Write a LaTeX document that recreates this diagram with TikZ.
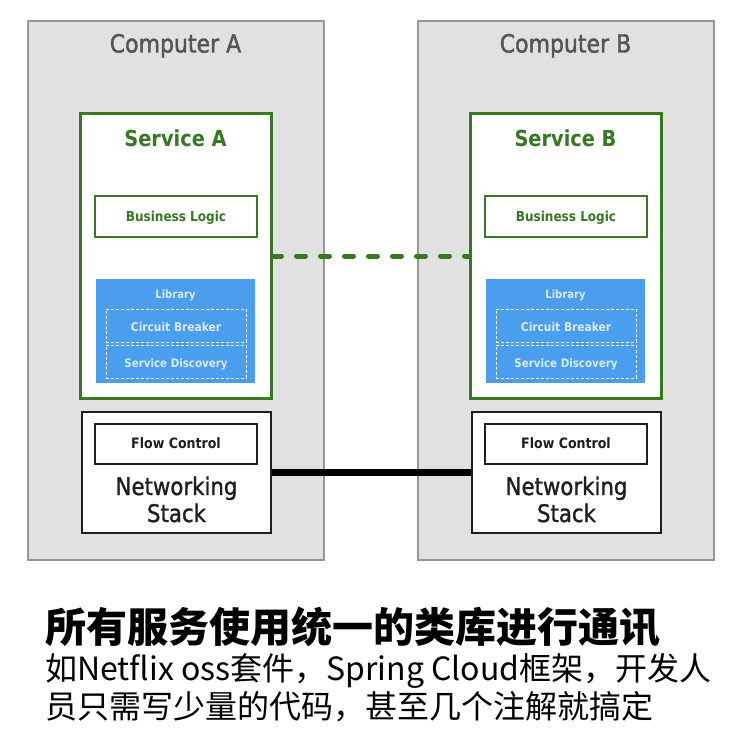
\documentclass[tikz,border=0pt]{standalone}
\usepackage{fontspec}
\newfontfamily\df[FakeStretch=0.88]{DejaVu Sans}
\newfontfamily\dfm[FakeStretch=0.88,FakeBold=1.6]{DejaVu Sans}
\newfontfamily\dfn[FakeStretch=0.88,FakeBold=1.2]{DejaVu Sans}
\newfontfamily\cjk{Noto Sans CJK SC}
\definecolor{compfill}{RGB}{225,225,225}
\definecolor{compedge}{RGB}{150,150,150}
\definecolor{complabel}{RGB}{85,85,85}
\definecolor{svcgreen}{RGB}{55,120,35}
\definecolor{libblue}{RGB}{74,158,237}
\definecolor{libtext}{RGB}{218,234,252}
\definecolor{darkline}{RGB}{30,30,30}
\begin{document}
\begin{tikzpicture}[x=1pt,y=-1pt,
  compbox/.style={draw=compedge, fill=compfill, line width=1.5pt, minimum width=296pt, minimum height=539pt, inner sep=0pt},
  svcbox/.style={draw=svcgreen, fill=white, line width=3pt, minimum width=191pt, minimum height=284pt, inner sep=0pt},
  logicbox/.style={draw=svcgreen, fill=white, line width=1.2pt, minimum width=162pt, minimum height=41pt, inner sep=0pt},
  libbox/.style={fill=libblue, minimum width=159pt, minimum height=104pt, inner sep=0pt},
  libpart/.style={draw=white, dash pattern=on 3pt off 2pt, line width=0.9pt, minimum width=140pt, minimum height=33pt, inner sep=0pt},
  netbox/.style={draw=darkline, fill=white, line width=1.8pt, minimum width=189pt, minimum height=121pt, inner sep=0pt},
  flowbox/.style={draw=darkline, fill=white, line width=1.4pt, minimum width=162pt, minimum height=40pt, inner sep=0pt},
  lbl/.style={anchor=base, inner sep=0pt},
  complbl/.style={lbl, text=complabel, font=\dfm\fontsize{25}{25}\selectfont},
  svclbl/.style={lbl, text=svcgreen, font=\df\bfseries\fontsize{22}{22}\selectfont},
  logiclbl/.style={lbl, text=svcgreen, font=\df\bfseries\fontsize{13.7}{14}\selectfont},
  liblbl/.style={lbl, text=libtext, font=\df\bfseries\fontsize{#1}{12}\selectfont},
  flowlbl/.style={lbl, text=darkline, font=\df\bfseries\fontsize{14.3}{15}\selectfont},
  netlbl/.style={lbl, text=darkline, font=\dfn\fontsize{24.2}{25}\selectfont},
  dashlink/.style={draw=svcgreen, line width=5pt, dash pattern=on 9pt off 15pt, line cap=round},
  netlink/.style={draw=black, line width=7pt},
  cjktitle/.style={anchor=base west, inner sep=0pt, font=\cjk\bfseries\fontsize{41}{41}\selectfont},
  cjkline/.style={anchor=base west, inner sep=0pt, font=\cjk\fontsize{32}{32}\selectfont}
]
\useasboundingbox (0,0) rectangle (744,746);
\fill[white] (0,0) rectangle (744,746);

\foreach \s/\dx in {A/0,B/390}{
  \node[compbox] (comp\s) at (176+\dx,290.5) {};
  \node[complbl] (complab\s) at (175.5+\dx,52.5) {Computer \s};
  \node[svcbox] (svc\s) at (175.5+\dx,256) {};
  \node[svclbl] (svclab\s) at (175.5+\dx,146.5) {Service \s};
  \node[logicbox] (logic\s) at (176+\dx,216.5) {};
  \node[logiclbl] (logiclab\s) at (176+\dx,221) {Business Logic};
  \node[libbox] (lib\s) at (175.5+\dx,331) {};
  \node[liblbl=11.4] (liblab\s) at (175.5+\dx,298) {Library};
  \node[libpart] (cb\s) at (176+\dx,325.5) {};
  \node[liblbl=12.1] (cblab\s) at (176+\dx,331.5) {Circuit Breaker};
  \node[libpart] (sd\s) at (176+\dx,361.5) {};
  \node[liblbl=11.7] (sdlab\s) at (176+\dx,367) {Service Discovery};
  \node[netbox] (net\s) at (176.5+\dx,472.5) {};
  \node[flowbox] (flow\s) at (176+\dx,444) {};
  \node[flowlbl] (flowlab\s) at (176+\dx,448) {Flow Control};
  \node[netlbl] (netlab\s) at (176.5+\dx,495) {Networking};
  \node[netlbl] (stacklab\s) at (176.5+\dx,522) {Stack};
}

\draw[dashlink] (svcA.east) -- (svcB.west);
\draw[netlink] (netA.east) -- (netB.west);

\node[cjktitle] (title) at (45,642) {所有服务使用统一的类库进行通讯};
\node[cjkline] (line2) at (45,680) {如Netflix oss套件，Spring Cloud框架，开发人};
\node[cjkline] (line3) at (45,718) {员只需写少量的代码，甚至几个注解就搞定};
\end{tikzpicture}
\end{document}
